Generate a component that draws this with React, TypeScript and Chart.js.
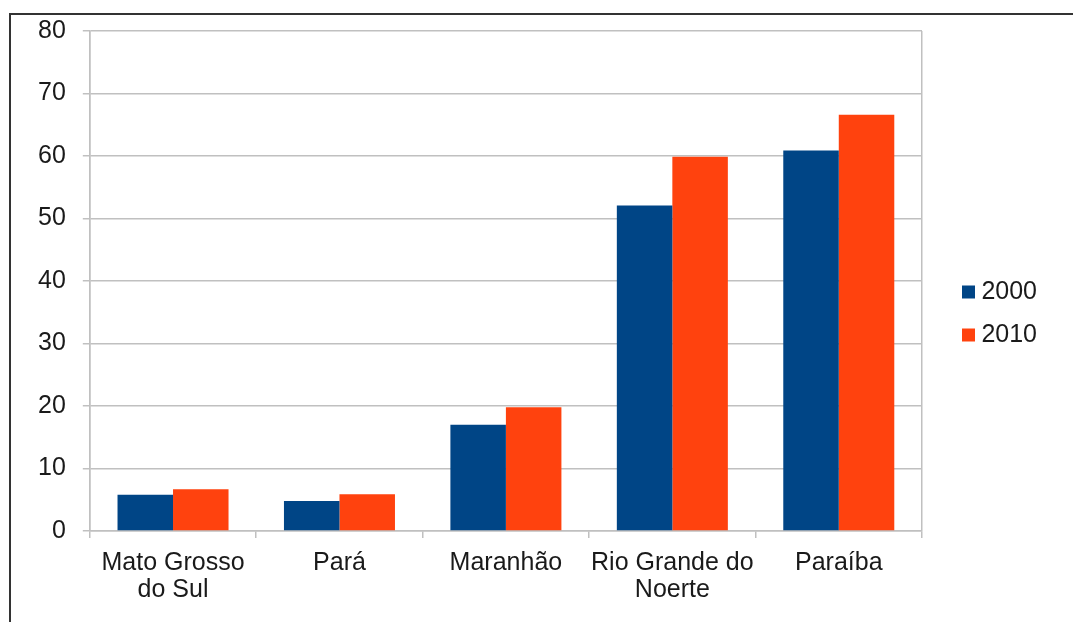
import { useEffect, useRef } from 'react';
import { Chart, registerables } from 'chart.js';

Chart.register(...registerables);

const categories: (string | string[])[] = [
  ['Mato Grosso', 'do Sul'],
  'Pará',
  'Maranhão',
  ['Rio Grande do', 'Noerte'],
  'Paraíba',
];
const seriesLabels = ['2000', '2010'];
const values2000 = [5.8, 4.8, 17.0, 52.1, 60.9];
const values2010 = [6.7, 5.9, 19.8, 59.9, 66.6];
const yMin = 0;
const yMax = 80;
const yStep = 10;

const BLUE = '#004586';
const ORANGE = '#ff420e';
const GRID = '#c0c0c0';
const TEXT = '#1a1a1a';
const FONT = "'Liberation Sans', Arial, sans-serif";

const framePlugin = {
  id: 'frame',
  afterDraw(chart: any) {
    const ctx = chart.ctx;
    ctx.save();
    ctx.strokeStyle = '#333333';
    ctx.lineWidth = 2;
    ctx.beginPath();
    ctx.moveTo(10, chart.height);
    ctx.lineTo(10, 14);
    ctx.lineTo(chart.width, 14);
    ctx.stroke();
    ctx.restore();
  },
};

export default function App() {
  const ref = useRef<HTMLCanvasElement>(null);

  useEffect(() => {
    document.body.style.margin = '0';
    const canvas = ref.current;
    if (!canvas) return;
    const chart = new Chart(canvas, {
      type: 'bar',
      data: {
        labels: categories,
        datasets: [
          {
            label: seriesLabels[0],
            data: values2000,
            backgroundColor: BLUE,
            borderWidth: 0,
            categoryPercentage: 0.667,
            barPercentage: 1.0,
          },
          {
            label: seriesLabels[1],
            data: values2010,
            backgroundColor: ORANGE,
            borderWidth: 0,
            categoryPercentage: 0.667,
            barPercentage: 1.0,
          },
        ],
      },
      options: {
        responsive: false,
        animation: false,
        layout: { padding: { top: 12, left: 21, right: 36, bottom: 7 } },
        plugins: {
          tooltip: { enabled: false },
          legend: {
            position: 'right',
            maxWidth: 93,
            labels: {
              boxWidth: 13,
              boxHeight: 13,
              padding: 18,
              textAlign: 'right',
              color: TEXT,
              font: { family: FONT, size: 25 },
            },
          },
        },
        scales: {
          x: {
            offset: true,
            grid: {
              offset: true,
              drawOnChartArea: true,
              tickLength: 7,
              color: (c: any) => (c.type !== 'tick' || c.index === 0 ? GRID : 'rgba(0,0,0,0)'),
              tickColor: GRID,
              lineWidth: 1.5,
            },
            border: { display: true, color: GRID, width: 1.5 },
            ticks: {
              color: TEXT,
              padding: 11,
              maxRotation: 0,
              autoSkip: false,
              font: { family: FONT, size: 25, lineHeight: 1.1 },
            },
          },
          y: {
            min: yMin,
            max: yMax,
            grid: { color: GRID, tickLength: 7, lineWidth: 1.5 },
            border: { display: true, color: GRID, width: 1.5 },
            ticks: {
              stepSize: yStep,
              color: TEXT,
              padding: 17,
              font: { family: FONT, size: 25 },
            },
            afterFit: (s: any) => {
              s.paddingTop = 31;
            },
          },
          y2: {
            type: 'linear',
            position: 'right',
            display: true,
            grid: { display: false, drawTicks: false },
            ticks: { display: false },
            border: { display: false },
            afterFit: (s: any) => {
              s.width = 22;
            },
          },
        },
      },
      plugins: [framePlugin],
    } as any);
    return () => chart.destroy();
  }, []);

  return (
    <div style={{ width: 1073, height: 622 }}>
      <canvas ref={ref} width={1073} height={622} />
    </div>
  );
}
